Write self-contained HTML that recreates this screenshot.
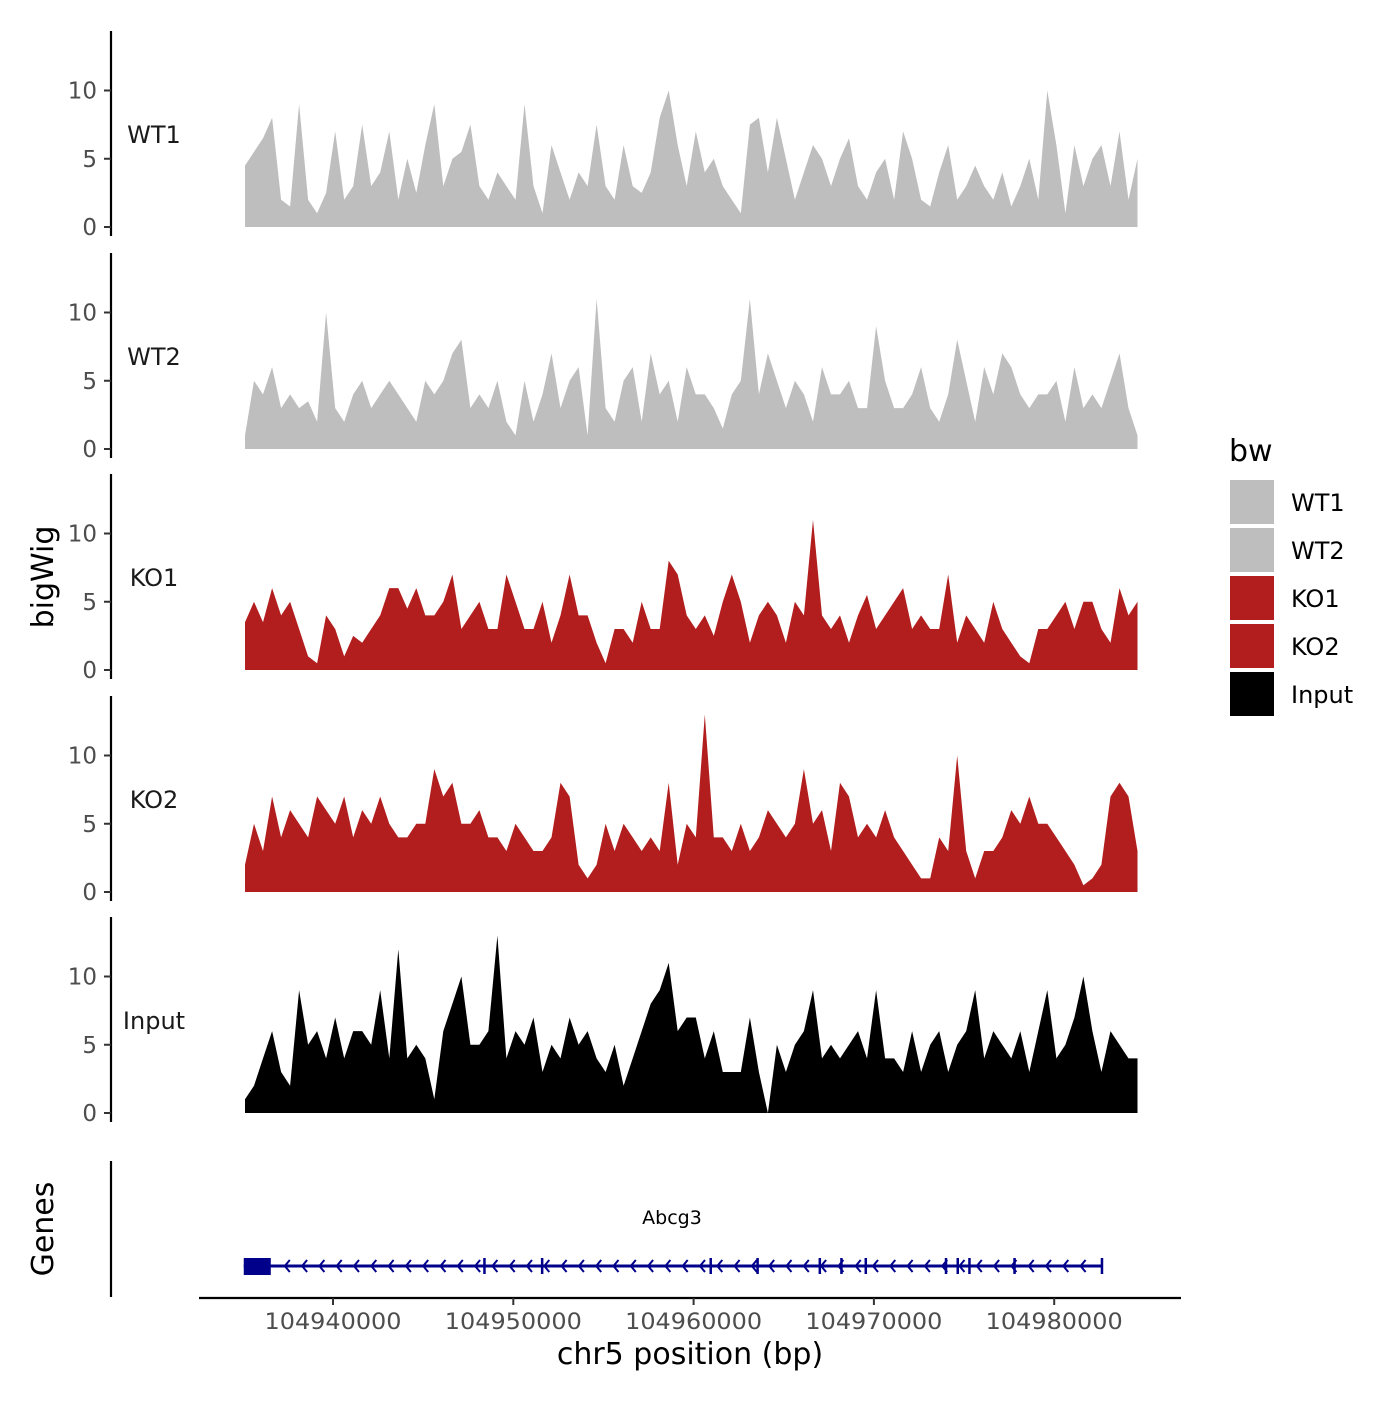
<!DOCTYPE html>
<html><head><meta charset="utf-8"><style>
html,body{margin:0;padding:0;background:#fff}
svg text{font-family:"DejaVu Sans","Liberation Sans",sans-serif}
</style></head><body>
<svg id="chart" width="1400" height="1400" viewBox="0 0 1400 1400" xmlns="http://www.w3.org/2000/svg">
<g id="tracks"></g>
<g id="genes"></g>
<g id="xaxis"></g>
<text x="0" y="0" transform="translate(53,577) rotate(-90)" text-anchor="middle" font-size="30" fill="#000">bigWig</text>
<text x="0" y="0" transform="translate(53,1229) rotate(-90)" text-anchor="middle" font-size="30" fill="#000">Genes</text>
<text x="690" y="1364" text-anchor="middle" font-size="30" fill="#000">chr5 position (bp)</text>
<g id="legend">
<text x="1229" y="461" font-size="30" fill="#000">bw</text>
</g>
</svg>
<script>
const trackNames=["WT1","WT2","KO1","KO2","Input"];
const trackColors=["#bebebe","#bebebe","#b21e1e","#b21e1e","#000000"];
const binStart=104935120, binSize=500;
const wt1=[4.5,5.5,6.5,8,2,1.5,9,2,1,2.5,7,2,3,7.5,3,4,7,2,5,2.5,6,9,3,5,5.5,7.5,3,2,4,3,2,9,3,1,6,4,2,4,3,7.5,3,2,6,3,2.5,4,8,10,6,3,7,4,5,3,2,1,7.5,8,4,8,5,2,4,6,5,3,5,6.5,3,2,4,5,2,7,5,2,1.5,4,6,2,3,4.5,3,2,4,1.5,3,5,2,10,6,1,6,3,5,6,3,7,2,5];
const wt2=[1,5,4,6,3,4,3,3.5,2,10,3,2,4,5,3,4,5,4,3,2,5,4,5,7,8,3,4,3,5,2,1,5,2,4,7,3,5,6,1,11,3,2,5,6,2,7,4,5,2,6,4,4,3,1.5,4,5,11,4,7,5,3,5,4,2,6,4,4,5,3,3,9,5,3,3,4,6,3,2,4,8,5,2,6,4,7,6,4,3,4,4,5,2,6,3,4,3,5,7,3,1];
const ko1=[3.5,5,3.5,6,4,5,3,1,0.5,4,3,1,2.5,2,3,4,6,6,4.5,6,4,4,5,7,3,4,5,3,3,7,5,3,3,5,2,4,7,4,4,2,0.5,3,3,2,5,3,3,8,7,4,3,4,2.5,5,7,5,2,4,5,4,2,5,4,11,4,3,4,2,4,5.5,3,4,5,6,3,4,3,3,7,2,4,3,2,5,3,2,1,0.5,3,3,4,5,3,5,5,3,2,6,4,5];
const ko2=[2,5,3,7,4,6,5,4,7,6,5,7,4,6,5,7,5,4,4,5,5,9,7,8,5,5,6,4,4,3,5,4,3,3,4,8,7,2,1,2,5,3,5,4,3,4,3,8,2,5,4,13,4,4,3,5,3,4,6,5,4,5,9,5,6,3,8,7,4,5,4,6,4,3,2,1,1,4,3,10,3,1,3,3,4,6,5,7,5,5,4,3,2,0.5,1,2,7,8,7,3];
const input=[1,2,4,6,3,2,9,5,6,4,7,4,6,6,5,9,4,12,4,5,4,1,6,8,10,5,5,6,13,4,6,5,7,3,5,4,7,5,6,4,3,5,2,4,6,8,9,11,6,7,7,4,6,3,3,3,7,3,0,5,3,5,6,9,4,5,4,5,6,4,9,4,4,3,6,3,5,6,3,5,6,9,4,6,5,4,6,3,6,9,4,5,7,10,6,3,6,5,4,4];
const series=[wt1,wt2,ko1,ko2,input];
const yTicks=[0,5,10];
const xTicks=[104940000,104950000,104960000,104970000,104980000];
const geneName="Abcg3";
const geneStart=104935050, geneEnd=104982650;
const exonBlock=[104935050,104936550];
const exonMarks=[104948400,104951600,104960950,104963550,104967000,104968200,104969550,104974000,104974650,104975300,104977800,104982650];

const NS="http://www.w3.org/2000/svg";
function mk(tag,attrs,parent){const e=document.createElementNS(NS,tag);for(const k in attrs)e.setAttribute(k,attrs[k]);parent.appendChild(e);return e;}
const pxPerBp=180.3/10000;
function xs(bp){return 333+(bp-104940000)*pxPerBp;}
const unit=13.65;
const zeros=[227,449,670,892,1113];
function ys(v,t){return zeros[t]-v*unit;}

const tg=document.getElementById('tracks');
series.forEach((vals,t)=>{
  const g=mk('g',{},tg);
  
  
  const ax=mk('line',{x1:111,x2:111,y1:zeros[t]-196,y2:zeros[t]+9,stroke:'#000','stroke-width':2.2},g);
  
  
  yTicks.forEach(v=>{
    const tk=mk('line',{x1:104,x2:111,y1:ys(v,t),y2:ys(v,t),stroke:'#333','stroke-width':2},g);
    
    
    const tl=mk('text',{x:97,y:ys(v,t)+8,'text-anchor':'end','font-size':23,fill:'#4d4d4d'},g);
    
    
    tl.textContent=v;
  });
  const lb=mk('text',{x:154,y:zeros[t]-84,'text-anchor':'middle','font-size':24,fill:'#1a1a1a'},g);
  
  
  lb.textContent=trackNames[t];
  let d='M'+xs(binStart)+','+zeros[t];
  vals.forEach((v,i)=>{const bp=binStart+i*binSize; d+=' L'+xs(bp).toFixed(1)+','+ys(v,t).toFixed(1);});
  d+=' L'+xs(binStart+(vals.length-1)*binSize).toFixed(1)+','+zeros[t]+' Z';
  const a=mk('path',{d:d,fill:trackColors[t]},g);
  
  
});

const gg=document.getElementById('genes');
const gax=mk('line',{x1:111,x2:111,y1:1161,y2:1297,stroke:'#000','stroke-width':2.2},gg);


const gy=1266, blue='#00008b';
const gl=mk('line',{x1:xs(geneStart),x2:xs(geneEnd),y1:gy,y2:gy,stroke:blue,'stroke-width':3},gg);


const eb=mk('rect',{x:xs(exonBlock[0]),y:gy-8,width:xs(exonBlock[1])-xs(exonBlock[0]),height:17,fill:blue},gg);


exonMarks.forEach(bp=>{
  const m=mk('line',{x1:xs(bp),x2:xs(bp),y1:gy-8,y2:gy+8,stroke:blue,'stroke-width':2.5},gg);
  
  
});
for(let x=xs(exonBlock[1])+14;x<xs(geneEnd)-5;x+=17.3){
  const c=mk('path',{d:`M${x+5},${gy-6} L${x},${gy} L${x+5},${gy+6}`,stroke:blue,'stroke-width':2,fill:'none'},gg);
  
  
}
const gn=mk('text',{x:672,y:1224,'text-anchor':'middle','font-size':19,fill:'#000'},gg);


gn.textContent=geneName;

const xg=document.getElementById('xaxis');
const xl=mk('line',{x1:199,x2:1181,y1:1298,y2:1298,stroke:'#000','stroke-width':2.2},xg);


xTicks.forEach(v=>{
  const tk=mk('line',{x1:xs(v),x2:xs(v),y1:1298,y2:1305,stroke:'#333','stroke-width':2},xg);
  
  
  const t=mk('text',{x:xs(v),y:1329,'text-anchor':'middle','font-size':22,fill:'#4d4d4d',textLength:137,lengthAdjust:'spacingAndGlyphs'},xg);
  
  
  t.textContent=v;
});

const lg=document.getElementById('legend');
trackNames.forEach((n,i)=>{
  const r=mk('rect',{x:1230,y:480+i*48,width:44,height:44,fill:trackColors[i]},lg);
  
  
  const t=mk('text',{x:1291,y:511+i*48,'font-size':24,fill:'#000'},lg);
  
  
  t.textContent=n;
});
</script>
</body></html>
